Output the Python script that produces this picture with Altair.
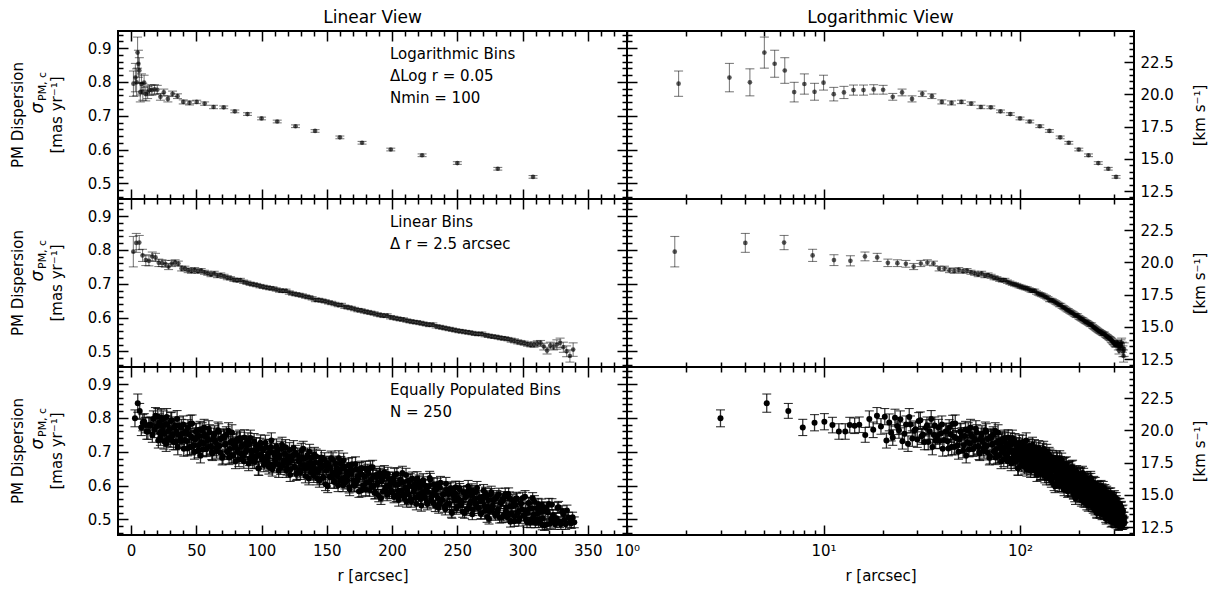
import altair as alt
import pandas as pd

# ---------------- data ----------------
# Logarithmic bins (dlog r = 0.05, Nmin = 100)
log_r = [1.83, 3.32, 4.22, 5.0, 5.64, 6.35, 7.09, 7.99, 9.0, 10.0,
         11.27, 12.7, 14.2, 15.97, 18.0, 20.1, 22.5, 25.1, 28.2, 31.8,
         35.6, 40.0, 44.8, 50.3, 56.4, 63.2, 71.0, 79.5, 89.2, 100.0,
         112.0, 126.0, 141.0, 160.0, 177.0, 199.0, 223.0, 250.0, 281.0, 308.0]
log_s = [0.795, 0.813, 0.799, 0.887, 0.854, 0.834, 0.770, 0.794, 0.771, 0.798,
         0.764, 0.769, 0.776, 0.776, 0.778, 0.777, 0.756, 0.769, 0.750, 0.765,
         0.758, 0.741, 0.738, 0.741, 0.736, 0.726, 0.725, 0.713, 0.705, 0.692,
         0.683, 0.669, 0.655, 0.636, 0.620, 0.600, 0.583, 0.560, 0.543, 0.519]
log_e = [0.0375, 0.042, 0.040, 0.046, 0.040, 0.038, 0.029, 0.030, 0.025, 0.022,
         0.020, 0.018, 0.015, 0.015, 0.014, 0.013, 0.010, 0.010, 0.009, 0.008,
         0.007, 0.006, 0.006, 0.005, 0.005, 0.005, 0.004, 0.004, 0.004, 0.004,
         0.004, 0.004, 0.004, 0.004, 0.004, 0.004, 0.004, 0.004, 0.004, 0.004]

# Linear bins (dr = 2.5 arcsec)
lin_r = [1.75, 4.0, 6.3, 8.8, 11.3, 13.7, 16.25, 18.75, 21.25, 23.75,
         26.25, 28.75, 31.25, 33.75, 36.25, 38.75, 41.25, 43.75, 46.25, 48.75,
         51.25, 53.75, 56.25, 58.75, 61.25, 63.75, 66.25, 68.75, 71.25, 73.75,
         76.25, 78.75, 81.25, 83.75, 86.25, 88.75, 91.25, 93.75, 96.25, 98.75,
         101.25, 103.75, 106.25, 108.75, 111.25, 113.75, 116.25, 118.75, 121.25, 123.75,
         126.25, 128.75, 131.25, 133.75, 136.25, 138.75, 141.25, 143.75, 146.25, 148.75,
         151.25, 153.75, 156.25, 158.75, 161.25, 163.75, 166.25, 168.75, 171.25, 173.75,
         176.25, 178.75, 181.25, 183.75, 186.25, 188.75, 191.25, 193.75, 196.25, 198.75,
         201.25, 203.75, 206.25, 208.75, 211.25, 213.75, 216.25, 218.75, 221.25, 223.75,
         226.25, 228.75, 231.25, 233.75, 236.25, 238.75, 241.25, 243.75, 246.25, 248.75,
         251.25, 253.75, 256.25, 258.75, 261.25, 263.75, 266.25, 268.75, 271.25, 273.75,
         276.25, 278.75, 281.25, 283.75, 286.25, 288.75, 291.25, 293.75, 296.25, 298.75,
         301.25, 303.75, 306.25, 308.75, 311.25, 313.75, 316.25, 318.75, 321.25, 323.75,
         326.25, 328.75, 331.25, 333.75, 336.25, 338.75]
lin_s = [0.795, 0.821, 0.822, 0.784, 0.770, 0.768, 0.781, 0.778, 0.762, 0.761,
         0.759, 0.751, 0.760, 0.763, 0.760, 0.745, 0.745, 0.740, 0.738, 0.741,
         0.737, 0.739, 0.734, 0.731, 0.727, 0.731, 0.724, 0.726, 0.722, 0.718,
         0.716, 0.712, 0.710, 0.711, 0.706, 0.703, 0.700, 0.698, 0.696, 0.693,
         0.691, 0.689, 0.687, 0.686, 0.683, 0.680, 0.679, 0.679, 0.674, 0.671,
         0.669, 0.667, 0.665, 0.662, 0.660, 0.657, 0.652, 0.652, 0.650, 0.648,
         0.645, 0.643, 0.640, 0.637, 0.637, 0.632, 0.630, 0.628, 0.625, 0.622,
         0.621, 0.618, 0.616, 0.614, 0.612, 0.609, 0.607, 0.605, 0.606, 0.601,
         0.599, 0.597, 0.595, 0.594, 0.591, 0.589, 0.587, 0.586, 0.584, 0.582,
         0.580, 0.578, 0.579, 0.574, 0.572, 0.570, 0.568, 0.566, 0.564, 0.562,
         0.560, 0.559, 0.557, 0.556, 0.554, 0.552, 0.551, 0.552, 0.548, 0.546,
         0.544, 0.543, 0.541, 0.539, 0.538, 0.536, 0.533, 0.531, 0.528, 0.526,
         0.524, 0.521, 0.519, 0.520, 0.523, 0.524, 0.514, 0.502, 0.517, 0.514,
         0.520, 0.525, 0.512, 0.500, 0.486, 0.505]
lin_e = [0.045, 0.028, 0.021, 0.018, 0.016, 0.015, 0.013, 0.012, 0.011, 0.010,
         0.010, 0.009, 0.009, 0.008, 0.007, 0.007, 0.007, 0.007, 0.007, 0.007,
         0.006, 0.006, 0.006, 0.006, 0.006, 0.006, 0.006, 0.006, 0.006, 0.006,
         0.005, 0.005, 0.005, 0.005, 0.005, 0.005, 0.005, 0.005, 0.005, 0.005,
         0.005, 0.005, 0.005, 0.005, 0.005, 0.005, 0.005, 0.005, 0.005, 0.005,
         0.005, 0.005, 0.005, 0.005, 0.005, 0.005, 0.005, 0.005, 0.005, 0.005,
         0.005, 0.005, 0.005, 0.005, 0.005, 0.005, 0.005, 0.005, 0.005, 0.005,
         0.005, 0.005, 0.005, 0.005, 0.005, 0.005, 0.005, 0.005, 0.005, 0.005,
         0.005, 0.005, 0.005, 0.005, 0.005, 0.005, 0.005, 0.005, 0.005, 0.005,
         0.005, 0.005, 0.005, 0.005, 0.005, 0.005, 0.005, 0.005, 0.005, 0.005,
         0.005, 0.005, 0.005, 0.005, 0.005, 0.005, 0.005, 0.005, 0.005, 0.005,
         0.005, 0.005, 0.005, 0.005, 0.005, 0.005, 0.006, 0.006, 0.006, 0.006,
         0.006, 0.006, 0.006, 0.008, 0.008, 0.008, 0.010, 0.010, 0.010, 0.010,
         0.014, 0.014, 0.015, 0.016, 0.018, 0.020]

# Equally populated bins (N = 250), first set
eq_r = [2.99, 5.14, 6.62, 7.84, 9.0, 10.1, 11.1, 11.97, 12.9, 13.6,
        14.4, 15.2, 16.3, 17.1, 17.9, 18.7, 19.6, 20.5, 20.9,
        21.6, 22.5, 23.7, 24.6, 25.8, 26.9, 27.7, 28.9, 30.0, 31.1,
        32.0, 33.2, 34.1, 35.3, 36.4, 37.2, 38.5, 39.6, 40.4, 41.7,
        42.8, 43.6, 44.9, 46.0, 46.8, 48.1, 49.2, 50.0, 51.3, 52.4,
        53.2, 54.5, 55.6, 56.4, 57.7, 58.8, 59.6,
        60.8, 61.9, 62.7, 64.0, 65.1, 65.9, 67.2, 68.3, 69.1, 70.4,
        71.5, 72.3, 73.6, 74.7, 75.5, 76.8, 77.9, 78.7, 80.0, 81.1,
        81.9, 83.2, 84.3, 85.1, 86.4, 87.5, 88.3, 89.6, 90.7, 91.5,
        92.8, 93.9, 94.7, 96.0, 97.1, 97.9, 99.2, 100.3, 101.1, 102.4,
        103.5, 104.3, 105.6, 106.7, 107.5, 108.8, 109.9, 110.7, 112.0, 113.1,
        113.9, 115.2, 116.3, 117.1, 118.4, 119.5,
        120.8, 121.9, 122.7, 124.0, 125.1, 125.9, 127.2, 128.3, 129.1, 130.4,
        131.5, 132.3, 133.6, 134.7, 135.5, 136.8, 137.9, 138.7, 140.0, 141.1,
        141.9, 143.2, 144.3, 145.1, 146.4, 147.5, 148.3, 149.6, 150.7, 151.5,
        152.8, 153.9, 154.7, 156.0, 157.1, 157.9, 159.2, 160.3, 161.1, 162.4,
        163.5, 164.3, 165.6, 166.7, 167.5, 168.8, 169.9, 170.7, 172.0, 173.1,
        173.9, 175.2, 176.3, 177.1, 178.4, 179.5, 180.8, 181.9, 182.7, 184.0,
        185.1, 185.9, 187.2, 188.3, 189.1, 190.4, 191.5, 192.3, 193.6, 194.7,
        195.5, 196.8, 197.9, 198.7,
        200.0, 201.1, 201.9, 203.2, 204.3, 205.1, 206.4, 207.5, 208.3, 209.6,
        210.7, 211.5, 212.8, 213.9, 214.7, 216.0, 217.1, 217.9, 219.2, 220.3,
        221.1, 222.4, 223.5, 224.3, 225.6, 226.7, 227.5, 228.8, 229.9, 230.7,
        232.0, 233.1, 233.9, 235.2, 236.3, 237.1, 238.4, 239.5, 240.8, 241.9,
        242.7, 244.0, 245.1, 245.9, 247.2, 248.3, 249.1, 250.4, 251.5, 252.3,
        253.6, 254.7, 255.5, 256.8, 257.9, 258.7, 260.0, 261.1, 261.9, 263.2,
        264.3, 265.1, 266.4, 267.5, 268.3, 269.6, 270.7, 271.5, 272.8, 273.9,
        274.7, 276.0, 277.1, 277.9, 279.2,
        280.3, 281.1, 282.4, 283.5, 284.3, 285.6, 286.7, 287.5, 288.8, 289.9,
        290.7, 292.0, 293.1, 293.9, 295.2, 296.3, 297.1, 298.4, 299.5, 300.8,
        301.9, 302.7, 304.0, 305.1, 305.9, 307.2, 308.3, 309.1, 310.4, 311.5,
        312.3, 313.6, 314.7, 315.5, 316.8, 318.0, 319.4, 321.0, 322.5, 324.1,
        325.8, 327.6, 329.3, 331.2, 333.0, 335.1, 337.3, 339.6]
eq_s = [0.799, 0.844, 0.821, 0.772, 0.786, 0.789, 0.779, 0.760, 0.760, 0.779,
        0.777, 0.780, 0.750, 0.797, 0.765, 0.807, 0.775, 0.804, 0.733,
        0.787, 0.742, 0.776, 0.796, 0.753, 0.724, 0.781, 0.762, 0.736, 0.793,
        0.751, 0.771, 0.729, 0.797, 0.750, 0.733, 0.772, 0.755, 0.709, 0.759,
        0.731, 0.771, 0.714, 0.745, 0.784, 0.719, 0.736, 0.759, 0.704, 0.747,
        0.689, 0.762, 0.724, 0.750, 0.708, 0.734, 0.768,
        0.716, 0.699, 0.736, 0.753, 0.710, 0.721, 0.759, 0.698, 0.739, 0.686,
        0.743, 0.723, 0.699, 0.762, 0.708, 0.688, 0.730, 0.721, 0.671, 0.736,
        0.705, 0.741, 0.693, 0.718, 0.672, 0.724, 0.705, 0.733, 0.680, 0.741,
        0.689, 0.703, 0.671, 0.719, 0.688, 0.651, 0.727, 0.677, 0.704, 0.670,
        0.714, 0.685, 0.655, 0.702, 0.733, 0.659, 0.690, 0.672, 0.703, 0.644,
        0.689, 0.709, 0.660, 0.674, 0.713, 0.652,
        0.685, 0.632, 0.675, 0.690, 0.656, 0.697, 0.638, 0.675, 0.645, 0.703,
        0.660, 0.679, 0.628, 0.684, 0.652, 0.700, 0.639, 0.657, 0.629, 0.668,
        0.686, 0.641, 0.614, 0.668, 0.655, 0.624, 0.676, 0.644, 0.598, 0.664,
        0.653, 0.626, 0.676, 0.611, 0.642, 0.630, 0.681, 0.615, 0.649, 0.601,
        0.657, 0.626, 0.616, 0.660, 0.589, 0.635, 0.645, 0.602, 0.664, 0.613,
        0.620, 0.648, 0.585, 0.632, 0.601, 0.651, 0.609, 0.636, 0.587, 0.617,
        0.654, 0.599, 0.579, 0.626, 0.608, 0.637, 0.562, 0.615, 0.627, 0.587,
        0.595, 0.634, 0.579, 0.607,
        0.580, 0.613, 0.631, 0.571, 0.602, 0.557, 0.617, 0.584, 0.610, 0.561,
        0.631, 0.587, 0.574, 0.616, 0.553, 0.596, 0.588, 0.563, 0.621, 0.571,
        0.596, 0.541, 0.607, 0.574, 0.599, 0.551, 0.581, 0.622, 0.558, 0.574,
        0.604, 0.540, 0.588, 0.563, 0.547, 0.608, 0.557, 0.574, 0.530, 0.587,
        0.577, 0.546, 0.592, 0.519, 0.569, 0.577, 0.532, 0.562, 0.593, 0.544,
        0.552, 0.580, 0.519, 0.569, 0.582, 0.534, 0.552, 0.586, 0.528, 0.561,
        0.541, 0.593, 0.534, 0.554, 0.518, 0.567, 0.541, 0.577, 0.507, 0.557,
        0.524, 0.580, 0.540, 0.558, 0.513,
        0.567, 0.529, 0.505, 0.549, 0.558, 0.511, 0.574, 0.535, 0.518, 0.563,
        0.493, 0.539, 0.548, 0.509, 0.562, 0.520, 0.496, 0.548, 0.530, 0.511,
        0.567, 0.499, 0.520, 0.548, 0.490, 0.533, 0.512, 0.553, 0.499, 0.518,
        0.492, 0.533, 0.543, 0.503, 0.482, 0.534, 0.520, 0.487, 0.544, 0.493,
        0.503, 0.536, 0.485, 0.516, 0.485, 0.505, 0.488, 0.491]
eq_e = [0.025, 0.027, 0.022, 0.024, 0.024, 0.024, 0.023, 0.023, 0.023, 0.023,
        0.023, 0.023, 0.022, 0.024, 0.023, 0.024, 0.023, 0.024, 0.022,
        0.025, 0.023, 0.025, 0.025, 0.024, 0.023, 0.025, 0.024, 0.023, 0.025,
        0.024, 0.024, 0.023, 0.025, 0.024, 0.023, 0.024, 0.024, 0.022, 0.024,
        0.023, 0.024, 0.023, 0.024, 0.025, 0.023, 0.023, 0.024, 0.022, 0.024,
        0.022, 0.024, 0.023, 0.024, 0.022, 0.023, 0.024,
        0.023, 0.022, 0.023, 0.024, 0.022, 0.023, 0.024, 0.022, 0.023, 0.022,
        0.023, 0.023, 0.022, 0.024, 0.022, 0.022, 0.023, 0.023, 0.021, 0.023,
        0.022, 0.023, 0.022, 0.023, 0.021, 0.023, 0.022, 0.023, 0.021, 0.023,
        0.022, 0.022, 0.021, 0.023, 0.022, 0.021, 0.023, 0.021, 0.022, 0.021,
        0.023, 0.022, 0.021, 0.022, 0.023, 0.021, 0.022, 0.021, 0.022, 0.020,
        0.022, 0.022, 0.021, 0.021, 0.023, 0.021,
        0.022, 0.020, 0.021, 0.022, 0.021, 0.022, 0.020, 0.021, 0.020, 0.022,
        0.021, 0.021, 0.020, 0.022, 0.021, 0.022, 0.020, 0.021, 0.020, 0.021,
        0.022, 0.020, 0.019, 0.021, 0.021, 0.020, 0.021, 0.020, 0.019, 0.021,
        0.021, 0.020, 0.021, 0.019, 0.020, 0.020, 0.022, 0.019, 0.021, 0.019,
        0.021, 0.020, 0.019, 0.021, 0.019, 0.020, 0.020, 0.019, 0.021, 0.019,
        0.020, 0.020, 0.018, 0.020, 0.019, 0.021, 0.019, 0.020, 0.019, 0.019,
        0.021, 0.019, 0.018, 0.020, 0.019, 0.020, 0.018, 0.019, 0.020, 0.019,
        0.019, 0.020, 0.018, 0.019,
        0.018, 0.019, 0.020, 0.018, 0.019, 0.018, 0.019, 0.018, 0.019, 0.018,
        0.020, 0.019, 0.018, 0.019, 0.017, 0.019, 0.019, 0.018, 0.020, 0.018,
        0.019, 0.017, 0.019, 0.018, 0.019, 0.017, 0.018, 0.020, 0.018, 0.018,
        0.019, 0.017, 0.019, 0.018, 0.017, 0.019, 0.018, 0.018, 0.017, 0.019,
        0.018, 0.017, 0.019, 0.016, 0.018, 0.018, 0.017, 0.018, 0.019, 0.017,
        0.017, 0.018, 0.016, 0.018, 0.018, 0.017, 0.017, 0.019, 0.017, 0.018,
        0.017, 0.019, 0.017, 0.018, 0.016, 0.018, 0.017, 0.018, 0.016, 0.018,
        0.017, 0.018, 0.017, 0.018, 0.016,
        0.018, 0.017, 0.016, 0.017, 0.018, 0.016, 0.018, 0.017, 0.016, 0.018,
        0.016, 0.017, 0.017, 0.016, 0.018, 0.016, 0.016, 0.017, 0.017, 0.016,
        0.018, 0.016, 0.016, 0.017, 0.015, 0.017, 0.016, 0.017, 0.016, 0.016,
        0.016, 0.017, 0.017, 0.016, 0.015, 0.017, 0.016, 0.015, 0.017, 0.016,
        0.016, 0.017, 0.015, 0.016, 0.015, 0.016, 0.015, 0.016]

# Equally populated bins (N = 250), interleaved second set
eq2_r = [22.1, 23.1, 24.2, 25.2, 26.3, 27.3, 28.3, 29.4, 30.5, 31.5,
         32.6, 33.6, 34.7, 35.8, 36.8, 37.9, 39.0, 40.0, 41.0, 42.2,
         43.2, 44.3, 45.4, 46.4, 47.5, 48.6, 49.6, 50.6, 51.8, 52.8,
         53.9, 55.0, 56.0, 57.0, 58.2, 59.2,
         60.2, 61.3, 62.3, 63.4, 64.5, 65.5, 66.6, 67.7, 68.7, 69.8,
         70.9, 71.9, 73.0, 74.1, 75.1, 76.2, 77.3, 78.3, 79.4, 80.5,
         81.5, 82.6, 83.7, 84.7, 85.8, 86.9, 87.9, 89.0, 90.1, 91.1,
         92.2, 93.3, 94.3, 95.4, 96.5, 97.5, 98.6, 99.7, 100.7, 101.8,
         102.9, 103.9, 105.0, 106.1, 107.1, 108.2, 109.3, 110.3, 111.4, 112.5,
         113.5, 114.6, 115.7, 116.7, 117.8, 118.9, 119.9,
         120.3, 121.4, 122.3, 123.4, 124.5, 125.5, 126.6, 127.7, 128.7, 129.8,
         130.9, 131.9, 133.0, 134.1, 135.1, 136.2, 137.3, 138.3, 139.4, 140.5,
         141.5, 142.6, 143.7, 144.7, 145.8, 146.9, 147.9, 149.0, 150.1, 151.1,
         152.2, 153.3, 154.3, 155.4, 156.5, 157.5, 158.6, 159.7, 160.7, 161.8,
         162.9, 163.9, 165.0, 166.1, 167.1, 168.2, 169.3, 170.3, 171.4, 172.5,
         173.5, 174.6, 175.7, 176.7, 177.8, 178.9, 179.9, 181.3, 182.3, 183.4,
         184.5, 185.5, 186.6, 187.7, 188.7, 189.8, 190.9, 191.9, 193.0, 194.1,
         195.1, 196.2, 197.3, 198.3, 199.4,
         200.6, 201.5, 202.6, 203.7, 204.7, 205.8, 206.9, 207.9, 209.0, 210.1,
         211.1, 212.2, 213.3, 214.3, 215.4, 216.5, 217.5, 218.6, 219.7, 220.7,
         221.8, 222.9, 223.9, 225.0, 226.1, 227.1, 228.2, 229.3, 230.3, 231.4,
         232.5, 233.5, 234.6, 235.7, 236.7, 237.8, 238.9, 240.1, 241.3, 242.3,
         243.4, 244.5, 245.5, 246.6, 247.7, 248.7, 249.8, 250.9, 251.9, 253.0,
         254.1, 255.1, 256.2, 257.3, 258.3, 259.4, 260.5, 261.5, 262.6, 263.7,
         264.7, 265.8, 266.9, 267.9, 269.0, 270.1, 271.1, 272.2, 273.3, 274.3,
         275.4, 276.5, 277.5, 278.6, 279.7,
         280.8, 281.8, 282.9, 284.0, 285.0, 286.1, 287.2, 288.2, 289.3, 290.4,
         291.4, 292.5, 293.6, 294.6, 295.7, 296.8, 297.8, 298.9, 300.1, 301.3,
         302.3, 303.4, 304.5, 305.5, 306.6, 307.7, 308.7, 309.8, 310.9, 311.9,
         313.0, 314.1, 315.1, 316.2, 317.4, 318.7, 320.2, 321.8, 323.3, 325.0,
         326.7, 328.5, 330.3, 332.1, 334.0, 336.2, 338.3]
eq2_s = [0.756, 0.801, 0.764, 0.731, 0.781, 0.803, 0.739, 0.767, 0.791, 0.746,
         0.729, 0.778, 0.761, 0.714, 0.778, 0.746, 0.732, 0.781, 0.735, 0.761,
         0.710, 0.752, 0.783, 0.714, 0.740, 0.700, 0.761, 0.747, 0.719, 0.766,
         0.729, 0.707, 0.772, 0.746, 0.711, 0.736,
         0.757, 0.715, 0.695, 0.747, 0.732, 0.703, 0.764, 0.717, 0.738, 0.682,
         0.745, 0.721, 0.751, 0.701, 0.683, 0.729, 0.757, 0.688, 0.717, 0.730,
         0.701, 0.677, 0.735, 0.716, 0.687, 0.742, 0.700, 0.719, 0.665, 0.723,
         0.702, 0.672, 0.731, 0.683, 0.705, 0.651, 0.718, 0.690, 0.708, 0.661,
         0.727, 0.677, 0.694, 0.664, 0.714, 0.648, 0.696, 0.676, 0.716, 0.663,
         0.682, 0.653, 0.721, 0.667, 0.695, 0.644, 0.683,
         0.666, 0.705, 0.648, 0.684, 0.711, 0.654, 0.634, 0.690, 0.671, 0.638,
         0.682, 0.709, 0.650, 0.660, 0.690, 0.621, 0.668, 0.682, 0.636, 0.692,
         0.648, 0.621, 0.667, 0.652, 0.683, 0.623, 0.659, 0.604, 0.666, 0.652,
         0.626, 0.681, 0.638, 0.611, 0.666, 0.652, 0.601, 0.641, 0.665, 0.620,
         0.675, 0.609, 0.642, 0.630, 0.596, 0.648, 0.663, 0.616, 0.599, 0.648,
         0.627, 0.583, 0.637, 0.652, 0.599, 0.626, 0.588, 0.643, 0.609, 0.653,
         0.596, 0.626, 0.578, 0.631, 0.607, 0.570, 0.632, 0.617, 0.582, 0.639,
         0.596, 0.573, 0.620, 0.603, 0.585,
         0.621, 0.566, 0.604, 0.634, 0.584, 0.569, 0.610, 0.637, 0.574, 0.594,
         0.553, 0.614, 0.599, 0.560, 0.621, 0.581, 0.605, 0.545, 0.597, 0.612,
         0.561, 0.579, 0.616, 0.565, 0.587, 0.545, 0.598, 0.617, 0.566, 0.550,
         0.588, 0.572, 0.603, 0.534, 0.594, 0.557, 0.574, 0.537, 0.605, 0.546,
         0.575, 0.590, 0.522, 0.580, 0.555, 0.595, 0.536, 0.560, 0.588, 0.542,
         0.522, 0.579, 0.565, 0.528, 0.597, 0.544, 0.571, 0.515, 0.578, 0.549,
         0.582, 0.534, 0.564, 0.516, 0.554, 0.585, 0.525, 0.567, 0.538, 0.501,
         0.573, 0.531, 0.556, 0.517, 0.563,
         0.521, 0.574, 0.549, 0.505, 0.555, 0.565, 0.525, 0.506, 0.575, 0.539,
         0.517, 0.556, 0.494, 0.542, 0.560, 0.522, 0.503, 0.547, 0.563, 0.512,
         0.527, 0.491, 0.548, 0.532, 0.500, 0.562, 0.515, 0.490, 0.533, 0.545,
         0.498, 0.522, 0.484, 0.535, 0.525, 0.485, 0.545, 0.501, 0.513, 0.485,
         0.534, 0.491, 0.524, 0.498, 0.526, 0.491, 0.506]
eq2_e = [0.024, 0.025, 0.024, 0.023, 0.025, 0.025, 0.023, 0.024, 0.025, 0.024,
         0.023, 0.025, 0.024, 0.023, 0.025, 0.024, 0.023, 0.025, 0.023, 0.024,
         0.022, 0.024, 0.025, 0.023, 0.023, 0.022, 0.024, 0.024, 0.023, 0.024,
         0.023, 0.022, 0.024, 0.024, 0.022, 0.023,
         0.023, 0.022, 0.021, 0.023, 0.023, 0.022, 0.024, 0.022, 0.023, 0.021,
         0.023, 0.022, 0.023, 0.022, 0.021, 0.022, 0.023, 0.021, 0.022, 0.023,
         0.022, 0.021, 0.023, 0.022, 0.021, 0.023, 0.022, 0.022, 0.021, 0.022,
         0.022, 0.021, 0.023, 0.021, 0.022, 0.020, 0.022, 0.021, 0.022, 0.020,
         0.022, 0.021, 0.021, 0.020, 0.022, 0.020, 0.021, 0.021, 0.022, 0.020,
         0.021, 0.020, 0.022, 0.021, 0.021, 0.020, 0.021,
         0.021, 0.022, 0.020, 0.021, 0.022, 0.020, 0.019, 0.021, 0.021, 0.020,
         0.021, 0.022, 0.020, 0.020, 0.021, 0.019, 0.021, 0.021, 0.020, 0.021,
         0.020, 0.019, 0.021, 0.020, 0.021, 0.019, 0.020, 0.019, 0.021, 0.020,
         0.019, 0.021, 0.020, 0.019, 0.021, 0.020, 0.019, 0.020, 0.021, 0.019,
         0.021, 0.019, 0.020, 0.019, 0.018, 0.020, 0.020, 0.019, 0.018, 0.020,
         0.019, 0.018, 0.020, 0.020, 0.018, 0.019, 0.018, 0.020, 0.019, 0.020,
         0.018, 0.019, 0.018, 0.019, 0.019, 0.018, 0.019, 0.019, 0.018, 0.020,
         0.018, 0.018, 0.019, 0.019, 0.018,
         0.019, 0.017, 0.019, 0.019, 0.018, 0.017, 0.019, 0.020, 0.018, 0.018,
         0.017, 0.019, 0.018, 0.017, 0.019, 0.018, 0.019, 0.017, 0.018, 0.019,
         0.017, 0.018, 0.019, 0.017, 0.018, 0.017, 0.018, 0.019, 0.017, 0.017,
         0.018, 0.018, 0.019, 0.016, 0.018, 0.017, 0.018, 0.016, 0.019, 0.017,
         0.018, 0.018, 0.016, 0.018, 0.017, 0.018, 0.016, 0.017, 0.018, 0.017,
         0.016, 0.018, 0.017, 0.016, 0.018, 0.017, 0.018, 0.016, 0.018, 0.017,
         0.018, 0.016, 0.017, 0.016, 0.017, 0.018, 0.016, 0.017, 0.016, 0.015,
         0.018, 0.016, 0.017, 0.016, 0.017,
         0.016, 0.018, 0.017, 0.015, 0.017, 0.017, 0.016, 0.015, 0.018, 0.016,
         0.016, 0.017, 0.015, 0.017, 0.017, 0.016, 0.015, 0.017, 0.017, 0.016,
         0.016, 0.015, 0.017, 0.016, 0.015, 0.017, 0.016, 0.015, 0.016, 0.017,
         0.015, 0.016, 0.015, 0.016, 0.016, 0.015, 0.017, 0.015, 0.016, 0.015,
         0.016, 0.015, 0.016, 0.015, 0.016, 0.015, 0.015]

# tick values
XL_MAJOR = [0, 50, 100, 150, 200, 250, 300, 350]
XL_MINOR = [10, 20, 30, 40, 60, 70, 80, 90, 110, 120, 130, 140, 160, 170, 180, 190,
            210, 220, 230, 240, 260, 270, 280, 290, 310, 320, 330, 340, 360, 370]
XR_MAJOR = [1, 10, 100]
XR_MINOR = [2, 3, 4, 5, 6, 7, 8, 9, 20, 30, 40, 50, 60, 70, 80, 90, 200, 300]
Y_MAJOR = [0.5, 0.6, 0.7, 0.8, 0.9]
Y_MINOR = [0.46, 0.48, 0.52, 0.54, 0.56, 0.58, 0.62, 0.64, 0.66, 0.68,
           0.72, 0.74, 0.76, 0.78, 0.82, 0.84, 0.86, 0.88, 0.92, 0.94]
K_MAJOR = [12.5, 15.0, 17.5, 20.0, 22.5]
K_MINOR = [12.0, 13.0, 13.5, 14.0, 14.5, 15.5, 16.0, 16.5, 17.0, 18.0, 18.5, 19.0,
           19.5, 20.5, 21.0, 21.5, 22.0, 23.0, 23.5, 24.0, 24.5]

ROW_NOTES = [["Logarithmic Bins", "ΔLog r = 0.05", "Nmin = 100"],
             ["Linear Bins", "Δ r = 2.5 arcsec"],
             ["Equally Populated Bins", "N = 250"]]
COL_TITLES = ["Linear View", "Logarithmic View"]

# ---------------- layout / style constants ----------------
KMS_PER_MASYR = 26.2
Y_DOMAIN = [0.4535, 0.951]
K_DOMAIN = [Y_DOMAIN[0] * KMS_PER_MASYR, Y_DOMAIN[1] * KMS_PER_MASYR]
XL_DOMAIN = [-10, 380]
XR_DOMAIN = [1, 380]
W_L, W_R, H = 509, 507, 168
FONT = "DejaVu Sans"
MAJ, MINL = 10, 5


def tick_axis(orient, offset, values, size):
    return alt.Axis(orient=orient, offset=offset, values=values, tickSize=size,
                    tickWidth=1.5, tickColor="black", labels=False, domain=False,
                    grid=False, ticks=True)


def panel(r, s, e, col, row):
    W = W_L if col == 0 else W_R
    lo = [round(a - b, 4) for a, b in zip(s, e)]
    hi = [round(a + b, 4) for a, b in zip(s, e)]
    pts = pd.DataFrame({"r": r, "s": s, "lo": lo, "hi": hi})
    caps = pd.DataFrame({"r": list(r) + list(r), "c": lo + hi})
    host = pd.DataFrame({"r": [10.0], "s": [0.7], "km": [0.7 * KMS_PER_MASYR]})
    one = pd.DataFrame({"a": [0]})
    bottom = row == 2
    dense = row == 2

    if col == 0:
        xs = alt.Scale(domain=XL_DOMAIN, nice=False, zero=False)
        xmaj, xmin = XL_MAJOR, XL_MINOR
    else:
        xs = alt.Scale(type="log", domain=XR_DOMAIN, nice=False)
        xmaj, xmin = XR_MAJOR, XR_MINOR
    ys = alt.Scale(domain=Y_DOMAIN, nice=False, zero=False)
    ks = alt.Scale(domain=K_DOMAIN, nice=False, zero=False)

    def X(ax, title=None):
        return alt.X("r:Q", scale=xs, axis=ax, title=title)

    if bottom:
        kw = dict(orient="bottom", values=xmaj, ticks=False, tickSize=0, domain=False,
                  grid=False, labelFontSize=15, labelPadding=8, labelFlush=False,
                  labelOverlap=False, labelColor="black", titleFontSize=15,
                  titleFontWeight="normal", titlePadding=10, titleColor="black")
        if col == 1:
            kw["labelExpr"] = ("datum.value == 1 ? '10⁰' : datum.value == 10 ? '10¹' : '10²'")
        xlab = alt.Axis(**kw)
        xtitle = "r [arcsec]"
    else:
        xlab = None
        xtitle = None

    ylab = alt.Axis(orient="left", values=Y_MAJOR, ticks=False, tickSize=0, domain=False,
                    grid=False, labelFontSize=15, labelPadding=7, format=".1f",
                    labelColor="black")
    klab = alt.Axis(orient="right", values=K_MAJOR, ticks=False, tickSize=0, domain=False,
                    grid=False, labelFontSize=15, labelPadding=6, format=".1f",
                    labelColor="black", title="[km s⁻¹]", titleFontSize=15,
                    titleFontWeight="normal", titleAngle=270, titleBaseline="top",
                    titlePadding=19, titleColor="black")

    if col == 0:
        y_bars = ylab
        y_caps = tick_axis("right", -W, Y_MAJOR, MAJ)
        y_dots = tick_axis("left", -W, Y_MAJOR, MAJ)
    else:
        y_bars = tick_axis("right", -W, Y_MAJOR, MAJ)
        y_caps = tick_axis("right", -W, Y_MINOR, MINL)
        y_dots = None

    bar_op = 0.8 if dense else 0.5
    dot_op = 1.0 if dense else 0.65
    dot_sz = 36 if dense else 22
    bar_w = 1.3 if dense else 1.1

    bars = alt.Chart(pts).mark_rule(color="black", opacity=bar_op, strokeWidth=bar_w).encode(
        x=X(xlab, xtitle),
        y=alt.Y("lo:Q", scale=ys, axis=y_bars, title=None),
        y2="hi:Q")
    capl = alt.Chart(caps).mark_tick(orient="horizontal", size=9, thickness=1.1,
                                     color="black", opacity=bar_op).encode(
        x=X(tick_axis("top", -H, xmaj, MAJ)),
        y=alt.Y("c:Q", scale=ys, axis=y_caps, title=None))
    dots = alt.Chart(pts).mark_circle(size=dot_sz, color="black", opacity=dot_op).encode(
        x=X(tick_axis("bottom", -H, xmaj, MAJ)),
        y=alt.Y("s:Q", scale=ys, axis=y_dots, title=None))
    layers = [bars, capl, dots]

    if col == 0:
        layers.append(alt.Chart(host).mark_point(opacity=0).encode(
            x=X(tick_axis("top", -H, xmin, MINL)),
            y=alt.Y("s:Q", scale=ys, axis=tick_axis("right", -W, Y_MINOR, MINL), title=None)))
        layers.append(alt.Chart(host).mark_point(opacity=0).encode(
            x=X(tick_axis("bottom", -H, xmin, MINL)),
            y=alt.Y("s:Q", scale=ys, axis=tick_axis("left", -W, Y_MINOR, MINL), title=None)))
        layers.append(alt.Chart(one).mark_text(align="left", baseline="top", fontSize=15,
                                               lineHeight=22, color="black").encode(
            x=alt.value(272), y=alt.value(16), text=alt.value(ROW_NOTES[row])))
        layers.append(alt.Chart(one).mark_text(angle=270, fontSize=15, align="center",
                                               baseline="middle", color="black").encode(
            x=alt.value(-100), y=alt.value(H / 2), text=alt.value("PM Dispersion")))
        layers.append(alt.Chart(one).mark_text(angle=270, fontSize=17, fontStyle="italic",
                                               align="center", baseline="middle",
                                               color="black").encode(
            x=alt.value(-80), y=alt.value(77), text=alt.value("σ")))
        layers.append(alt.Chart(one).mark_text(angle=270, fontSize=11, align="left",
                                               baseline="middle", color="black").encode(
            x=alt.value(-75), y=alt.value(70), text=alt.value("PM, c")))
        layers.append(alt.Chart(one).mark_text(angle=270, fontSize=15, align="center",
                                               baseline="middle", color="black").encode(
            x=alt.value(-61), y=alt.value(H / 2), text=alt.value("[mas yr⁻¹]")))
    else:
        layers.append(alt.Chart(host).mark_point(opacity=0).encode(
            x=X(tick_axis("top", -H, xmin, MINL)),
            y=alt.Y("km:Q", scale=ks, axis=klab, title="[km s⁻¹]")))
        layers.append(alt.Chart(host).mark_point(opacity=0).encode(
            x=X(tick_axis("bottom", -H, xmin, MINL)),
            y=alt.Y("km:Q", scale=ks, axis=tick_axis("left", -W, K_MAJOR, MAJ), title=None)))
        layers.append(alt.Chart(host).mark_point(opacity=0).encode(
            x=X(None),
            y=alt.Y("km:Q", scale=ks, axis=tick_axis("left", -W, K_MINOR, MINL), title=None)))

    ch = alt.layer(*layers).resolve_scale(x="shared", y="independent").resolve_axis(
        x="independent", y="independent").properties(width=W, height=H)
    if row == 0:
        ch = ch.properties(title=alt.TitleParams(COL_TITLES[col], fontSize=17,
                                                 fontWeight="normal", anchor="middle",
                                                 frame="group", offset=3, color="black"))
    return ch


data_rows = [(log_r, log_s, log_e),
             (lin_r, lin_s, lin_e),
             (eq_r + eq2_r, eq_s + eq2_s, eq_e + eq2_e)]
panels = []
for i, (rr, ss, ee) in enumerate(data_rows):
    for c in range(2):
        panels.append(panel(rr, ss, ee, c, i))

chart = alt.concat(*panels, columns=2, spacing=0, bounds="flush").properties(
    padding={"left": 2, "top": 0, "right": 0, "bottom": 5}
).configure(font=FONT).configure_view(stroke="black", strokeWidth=2)

chart.save("out.html", embed_options={"renderer": "svg", "actions": False})
